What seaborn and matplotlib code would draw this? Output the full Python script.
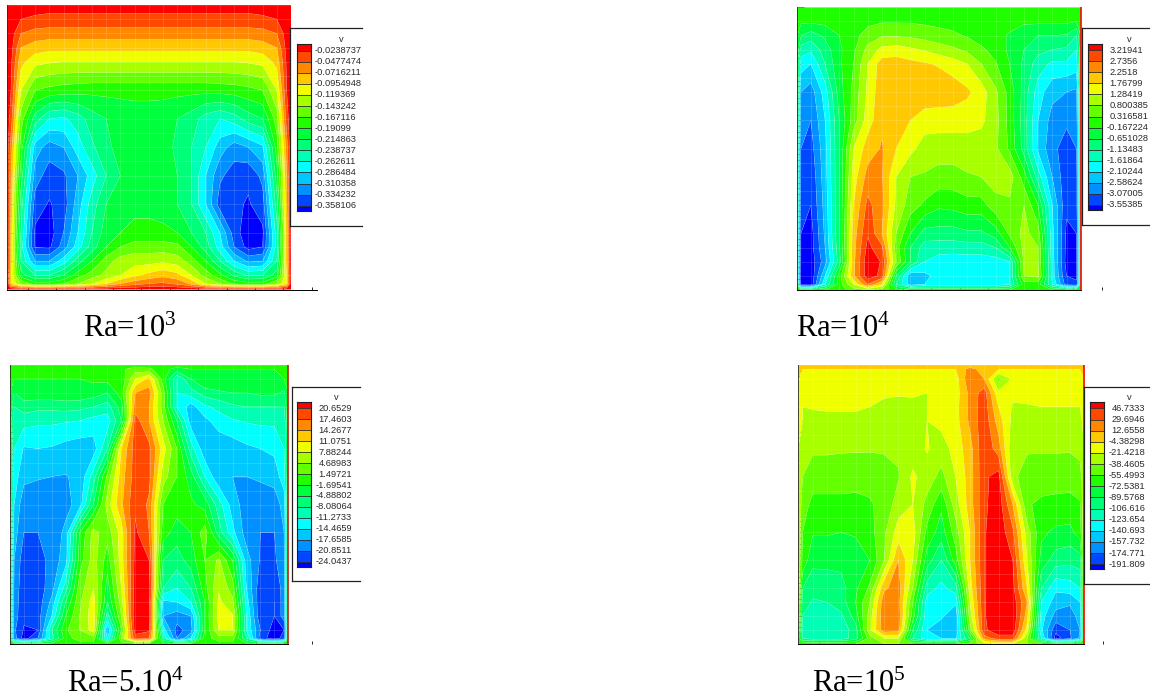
import numpy as np
import matplotlib
matplotlib.use("Agg")
import matplotlib.pyplot as plt
from matplotlib.colors import ListedColormap
from matplotlib.transforms import Bbox, TransformedBbox
import seaborn as sns

W, H = 1150, 700

x_frac = [0, .015, .05, .1, .15, .2, .25, .3, .35, .4, .45, .5, .55, .6, .65, .7, .75, .8, .85, .9, .95, .985, 1]
y_frac = [1, .985, .95, .9, .85, .8, .7, .6, .5, .4, .3, .2, .15, .1, .05, .02, 0]

level_colors = ["#0000ff", "#0048ff", "#0090ff", "#00c8ff", "#00ffff", "#00ffb4", "#00ff78", "#00ff3c",
                "#20ff00", "#64ff00", "#a8ff00", "#f0ff00", "#ffc800", "#ff8800", "#ff4800", "#ff0000"]

labels_a = ["-0.0238737", "-0.0477474", "-0.0716211", "-0.0954948", "-0.119369", "-0.143242", "-0.167116", "-0.19099",
            "-0.214863", "-0.238737", "-0.262611", "-0.286484", "-0.310358", "-0.334232", "-0.358106"]
labels_b = ["3.21941", "2.7356", "2.2518", "1.76799", "1.28419", "0.800385", "0.316581", "-0.167224",
            "-0.651028", "-1.13483", "-1.61864", "-2.10244", "-2.58624", "-3.07005", "-3.55385"]
labels_c = ["20.6529", "17.4603", "14.2677", "11.0751", "7.88244", "4.68983", "1.49721", "-1.69541",
            "-4.88802", "-8.08064", "-11.2733", "-14.4659", "-17.6585", "-20.8511", "-24.0437"]
labels_d = ["46.7333", "29.6946", "12.6558", "-4.38298", "-21.4218", "-38.4605", "-55.4993", "-72.5381",
            "-89.5768", "-106.616", "-123.654", "-140.693", "-157.732", "-174.771", "-191.809"]

levels_a = [
 [15.9,15.9,15.9,15.9,15.9,15.9,15.9,15.9,15.9,15.9,15.9,15.9,15.9,15.9,15.9,15.9,15.9,15.9,15.9,15.9,15.9,15.9,15.9],
 [15.9,15.9,15.6,15.3,15.2,15.2,15.2,15.2,15.2,15.2,15.2,15.2,15.2,15.2,15.2,15.2,15.2,15.2,15.2,15.3,15.6,15.9,15.9],
 [15.9,15.8,15.0,14.8,14.7,14.7,14.7,14.7,14.7,14.7,14.7,14.7,14.7,14.7,14.7,14.7,14.7,14.7,14.7,14.8,15.0,15.8,15.9],
 [15.9,15.5,14.0,13.6,13.5,13.5,13.5,13.5,13.5,13.5,13.5,13.5,13.5,13.5,13.5,13.5,13.5,13.5,13.5,13.6,14.0,15.5,15.9],
 [15.9,15.4,13.0,12.5,12.3,12.3,12.3,12.3,12.3,12.3,12.3,12.3,12.3,12.3,12.3,12.3,12.3,12.3,12.3,12.5,13.0,15.4,15.9],
 [15.9,15.2,12.3,11.3,11.1,11.0,11.0,11.0,11.0,11.0,11.0,11.0,11.0,11.0,11.0,11.0,11.0,11.0,11.1,11.3,12.3,15.2,15.9],
 [15.9,15.0,11.0,9.0,8.7,8.5,8.4,8.3,8.3,8.3,8.3,8.3,8.3,8.3,8.3,8.3,8.4,8.5,8.7,9.0,11.0,15.0,15.9],
 [15.8,14.5,9.5,6.5,5.0,4.8,5.5,6.5,7.0,7.3,7.5,7.5,7.4,7.0,6.5,5.5,5.0,5.5,6.5,7.0,9.5,14.5,15.8],
 [15.8,13.5,8.5,3.5,2.5,3.0,4.5,5.8,6.8,7.3,7.5,7.5,7.4,6.8,6.0,5.0,3.5,2.5,3.0,3.8,8.5,13.5,15.8],
 [15.7,13.0,7.5,2.5,1.5,1.8,3.0,4.5,6.0,7.0,7.5,7.8,7.5,7.0,6.0,4.0,2.2,1.5,1.2,2.3,7.5,13.0,15.7],
 [15.6,12.8,6.5,1.5,0.9,1.5,3.5,5.5,7.0,7.6,7.8,7.8,7.6,7.0,6.0,4.0,1.5,1.2,0.9,1.5,6.5,12.8,15.6],
 [15.6,12.5,6.0,0.8,0.5,2.0,4.0,6.0,7.5,8.0,8.2,8.2,8.2,8.0,7.0,6.0,4.0,1.5,0.3,0.8,5.5,12.5,15.6],
 [15.6,12.5,5.5,0.9,0.8,2.5,4.5,6.5,8.0,9.0,9.5,9.5,9.5,9.3,8.0,6.5,4.5,2.0,0.6,1.0,5.5,12.5,15.6],
 [15.7,12.5,6.0,3.0,3.0,4.5,6.5,8.0,9.5,10.5,10.6,10.6,10.8,10.5,9.5,8.0,6.0,4.0,2.8,3.0,6.0,12.5,15.7],
 [15.7,12.0,7.5,6.0,6.0,7.0,8.5,9.5,10.3,11.0,11.8,12.3,12.7,12.3,11.0,9.6,8.3,6.8,5.8,6.0,7.5,12.0,15.7],
 [15.8,12.0,10.0,8.5,8.5,9.0,10.0,11.0,12.0,13.0,13.6,14.0,14.2,13.8,12.8,11.0,10.0,8.8,8.5,8.5,10.0,12.0,15.8],
 [15.9,15.9,15.9,15.9,15.9,15.9,15.9,15.9,15.9,15.9,15.9,15.9,15.9,15.9,15.9,15.9,15.9,15.9,15.9,15.9,15.9,15.9,15.9],
]

levels_b = [
 [8.5,8.5,8.5,8.5,8.5,8.5,8.5,8.5,8.5,8.5,8.5,8.5,8.5,8.5,8.5,8.5,8.5,8.5,8.5,8.5,8.5,8.5,8.5],
 [8.5,8.4,8.4,8.4,8.5,8.5,8.5,8.6,8.6,8.6,8.6,8.6,8.5,8.5,8.5,8.5,8.5,8.4,8.4,8.4,8.4,8.4,8.5],
 [8.5,8.2,8.2,8.3,8.4,8.5,8.7,8.9,8.9,8.9,8.8,8.7,8.6,8.5,8.4,8.4,8.3,8.2,8.2,8.2,8.2,8.0,8.5],
 [8.2,7.0,6.5,7.2,8.0,8.6,9.5,9.9,9.9,9.8,9.6,9.4,9.2,8.9,8.5,8.3,7.9,7.3,7.0,7.0,6.9,6.0,8.0],
 [8.0,5.5,5.2,6.5,7.8,8.8,10.3,11.3,11.5,11.2,10.9,10.5,10.2,9.8,9.2,8.6,7.8,7.0,6.3,6.0,5.8,5.0,8.0],
 [8.0,4.5,4.0,6.0,7.8,9.0,11.0,12.5,12.5,12.3,12.1,11.9,11.5,11.0,10.0,9.1,8.0,6.8,5.5,4.8,4.8,4.5,8.0],
 [8.0,3.0,2.5,4.5,7.5,9.3,11.2,12.7,12.7,12.7,12.7,12.7,12.6,12.2,11.5,10.2,8.6,6.6,4.5,3.3,3.0,2.8,7.5],
 [7.5,2.5,2.0,4.0,7.0,9.5,11.5,12.8,12.7,12.0,11.5,11.4,11.4,11.4,11.2,10.4,8.6,6.5,4.0,2.6,2.2,2.5,7.0],
 [7.0,2.0,1.6,3.7,7.0,11.0,12.5,13.1,12.0,11.3,10.5,10.5,10.5,10.5,10.5,10.2,8.8,6.6,3.8,2.3,1.5,2.0,7.0],
 [7.0,1.8,1.2,3.6,7.0,11.5,13.4,13.1,11.0,10.0,9.9,9.6,9.6,9.9,10.0,10.5,10.5,8.5,5.5,3.0,1.3,1.5,7.0],
 [7.0,1.6,1.0,3.4,7.0,12.0,14.3,13.3,10.8,9.5,8.8,8.2,8.3,8.6,8.6,9.6,9.8,10.0,8.0,4.0,1.2,1.5,7.0],
 [7.0,1.0,0.6,3.2,7.0,12.5,14.9,13.0,10.0,8.0,6.6,6.6,6.6,6.8,6.8,7.5,9.2,10.3,9.5,4.3,0.8,1.0,7.0],
 [7.0,1.0,0.6,3.0,6.8,12.6,15.3,14.2,9.5,7.0,5.5,5.4,5.4,5.5,5.5,6.0,8.0,10.3,10.0,4.3,0.7,0.9,7.0],
 [7.0,0.8,0.4,2.6,6.5,12.7,15.7,14.9,10.0,7.0,5.0,4.6,4.5,4.5,4.5,4.5,5.0,10.2,10.0,4.5,0.6,0.8,7.0],
 [7.0,0.3,0.2,4.0,8.5,12.8,15.6,14.7,7.0,3.2,3.7,4.4,4.4,4.4,4.4,4.4,5.0,10.0,10.3,4.5,1.0,0.8,7.0],
 [8.0,0.5,0.3,5.0,8.5,11.0,14.0,12.0,6.0,3.5,4.0,4.2,4.2,4.2,4.2,4.2,5.0,8.5,8.5,5.0,1.5,1.2,7.5],
 [8.5,8.0,8.0,8.0,8.5,9.5,10.0,9.5,8.5,8.0,8.0,8.0,8.0,8.0,8.0,8.0,8.0,8.5,8.5,8.0,8.0,8.0,8.0],
]

levels_c = [
 [8.5,8.5,8.5,8.5,8.5,8.5,8.5,8.5,8.5,8.5,8.5,8.5,8.5,8.5,8.5,8.5,8.5,8.5,8.5,8.5,8.5,8.5,8.5],
 [8.5,8.2,8.2,8.3,8.3,8.3,8.3,8.4,8.5,8.8,9.5,9.2,8.4,7.6,8.0,8.0,8.0,8.0,8.0,8.0,8.0,8.2,8.5],
 [8.5,8.0,8.0,8.0,8.0,8.0,8.0,8.2,8.3,8.3,11.0,12.3,8.5,5.0,7.0,8.0,8.0,8.0,8.0,8.0,8.0,8.0,8.5],
 [8.0,7.0,7.6,7.7,7.7,7.8,7.8,7.5,7.0,8.5,13.0,13.5,9.5,5.0,5.5,6.5,6.8,7.0,7.0,7.2,7.2,6.8,8.0],
 [8.0,6.0,6.5,6.3,6.3,6.4,6.3,6.0,5.5,7.5,13.5,13.0,9.5,5.0,3.5,4.8,5.3,5.8,6.0,6.0,6.0,6.0,8.0],
 [8.0,5.3,5.4,5.2,5.2,5.1,5.0,4.6,4.5,7.0,14.5,13.0,10.0,7.0,3.5,3.7,4.5,4.9,5.1,5.2,5.2,5.3,8.0],
 [7.5,5.0,3.9,4.0,3.9,3.6,3.4,3.5,6.0,12.0,14.5,14.3,11.5,9.0,5.5,3.3,3.2,3.4,3.8,4.0,4.2,5.0,7.5],
 [7.5,4.5,3.3,3.1,3.0,2.95,3.2,5.5,9.3,12.5,14.5,14.3,10.5,9.0,7.5,5.0,3.2,3.0,3.0,3.2,3.5,4.5,7.5],
 [7.5,4.0,2.3,2.3,2.4,2.6,3.5,7.0,10.5,12.8,14.8,13.8,9.0,8.5,8.2,7.6,5.5,3.5,2.5,2.2,2.3,3.5,7.5],
 [7.5,3.5,2.0,2.0,2.2,3.3,8.0,10.4,9.4,11.5,15.2,14.0,8.5,7.5,8.0,9.5,6.5,4.3,2.5,2.0,2.0,3.0,7.5],
 [7.5,3.0,1.4,1.6,2.3,3.6,8.5,10.5,8.5,11.5,15.3,15.0,7.0,6.5,7.5,9.0,10.2,8.0,3.5,1.9,1.8,2.8,7.5],
 [7.5,2.8,1.2,1.4,2.6,5.5,9.5,11.0,7.5,11.0,15.5,15.5,6.0,5.0,6.0,8.6,10.9,9.5,4.0,1.3,1.1,2.5,7.5],
 [7.5,2.6,1.2,1.4,3.3,7.0,9.8,11.5,7.0,10.5,15.6,15.4,3.7,4.0,5.0,8.0,11.2,10.3,4.5,1.2,1.0,2.5,7.5],
 [7.5,2.5,1.2,1.5,4.0,8.0,10.0,11.6,5.5,10.0,15.8,15.6,3.0,2.5,3.0,8.0,11.4,11.1,5.0,1.2,1.0,2.5,7.5],
 [7.5,2.2,0.9,1.0,6.0,8.8,10.0,11.5,3.0,9.0,15.5,15.2,4.5,1.6,2.5,8.0,11.0,11.0,5.0,2.0,0.5,1.0,7.5],
 [8.0,2.5,0.5,2.0,5.5,8.5,9.5,9.5,4.0,10.0,14.5,14.0,6.0,2.0,4.0,8.5,9.5,9.5,6.0,1.5,0.4,1.5,8.0],
 [8.5,8.5,8.5,8.5,8.5,8.5,8.5,8.5,8.5,8.5,8.5,8.5,8.5,8.5,8.5,8.5,8.5,8.5,8.5,8.5,8.5,8.5,8.5],
]

levels_d = [
 [12.3,12.3,12.3,12.3,12.3,12.3,12.3,12.3,12.3,12.3,12.3,12.3,12.3,12.3,12.3,12.3,12.3,12.3,12.3,12.3,12.3,12.3,12.3],
 [12.2,12.0,12.0,12.0,12.0,12.0,12.0,12.0,12.0,12.0,12.0,12.0,12.0,13.4,12.5,12.0,12.0,12.0,12.0,12.0,12.0,12.0,12.2],
 [12.0,11.3,11.3,11.3,11.3,11.3,11.3,11.3,11.4,11.5,11.5,11.5,11.5,13.8,13.0,9.7,11.2,11.2,11.2,11.2,11.2,11.2,12.0],
 [12.0,11.1,11.1,11.1,11.1,11.1,11.1,11.1,11.1,11.2,11.0,11.4,11.5,13.3,14.5,11.2,11.2,11.2,11.1,11.1,11.1,11.1,12.0],
 [12.0,11.0,11.05,11.1,11.1,11.1,11.0,10.85,10.7,10.6,11.0,11.4,11.6,13.3,14.6,12.0,10.9,10.95,11.0,11.0,11.0,11.0,12.0],
 [12.0,11.0,10.8,10.8,10.8,10.8,10.7,10.6,10.6,10.6,11.0,11.3,11.6,13.2,14.7,12.5,10.7,10.6,10.6,10.6,10.6,10.6,11.5],
 [11.0,10.5,10.15,10.15,10.1,10.1,10.1,10.1,10.2,10.4,11.1,10.5,11.4,12.6,14.8,13.5,10.1,10.1,10.1,10.1,10.1,10.3,11.0],
 [11.0,10.0,9.5,9.5,9.5,9.4,9.3,9.6,9.9,11.2,10.5,9.7,11.0,12.5,14.8,15.4,10.2,9.6,9.5,9.5,9.4,9.6,11.0],
 [11.0,9.5,8.7,8.7,8.7,8.7,8.9,9.3,10.5,11.0,9.7,8.2,10.5,12.5,14.8,15.6,13.0,9.1,8.8,8.7,8.7,8.9,11.0],
 [11.0,9.0,8.1,8.1,8.0,8.1,8.6,9.8,11.5,11.5,8.7,7.5,9.5,12.0,14.9,15.7,14.2,10.5,8.2,7.8,7.7,8.5,11.0],
 [11.0,8.7,7.3,7.3,7.3,7.5,8.0,10.0,13.0,11.0,7.5,6.0,8.5,12.0,14.9,15.7,15.0,11.0,7.6,6.5,6.3,6.5,11.0],
 [11.0,7.0,6.3,6.4,6.6,7.8,9.2,12.8,13.5,10.0,5.5,4.7,5.5,11.5,14.9,15.7,15.3,12.0,6.0,4.2,4.5,5.0,11.0],
 [11.0,6.5,5.9,6.0,6.5,8.0,10.0,13.7,13.4,9.0,4.5,4.4,4.2,11.0,14.9,15.8,15.6,13.0,5.0,3.5,3.2,4.0,10.0],
 [10.5,6.0,5.6,5.7,5.8,7.5,10.5,13.8,13.6,8.5,4.3,4.2,3.2,10.5,14.9,15.8,15.8,12.5,4.5,2.6,2.4,3.5,10.0],
 [10.0,5.5,5.2,5.2,5.4,6.5,10.8,13.6,13.4,7.0,4.0,3.3,3.0,9.5,14.8,15.7,15.7,11.5,4.2,1.3,2.0,3.0,9.0],
 [9.0,6.0,5.5,5.5,5.5,6.5,9.5,11.0,11.0,6.0,4.3,4.0,3.8,7.0,13.5,14.5,14.5,10.0,5.0,0.5,1.8,3.2,8.0],
 [9.0,9.0,9.0,9.0,9.0,9.0,9.5,10.0,10.0,9.0,9.0,9.0,9.0,9.5,10.5,11.0,11.0,10.0,9.0,9.0,9.0,9.0,9.0],
]

captions = ["Ra=10$^{3}$", "Ra=10$^{4}$", "Ra=5.10$^{4}$", "Ra=10$^{5}$"]

sns.set_theme(style="white", rc={"axes.grid": False})
plt.rcParams["font.family"] = ["Liberation Sans", "DejaVu Sans"]
plt.rcParams["mathtext.default"] = "regular"
plt.rcParams["mathtext.fontset"] = "custom"
plt.rcParams["mathtext.rm"] = "Liberation Serif"

cmap = ListedColormap(sns.color_palette(level_colors, 16))
fig = plt.figure(figsize=(W / 100, H / 100), dpi=100, facecolor="white")


def px_axes(x0, y0, x1, y1, **kw):
    return fig.add_axes([x0 / W, 1 - y1 / H, (x1 - x0) / W, (y1 - y0) / H], **kw)


panels = [
    dict(z=levels_a, lab=labels_a, box=(6.7, 5, 291, 289.5), leg=(290, 28, 362, 226), bar=(296.7, 44, 310.7, 210.7),
         v=(341, 40), cap=(83, 337), cap_txt=captions[0], end=317, line=True, right=None),
    dict(z=levels_b, lab=labels_b, box=(796.7, 7.3, 1080.7, 290), leg=(1082, 28, 1150, 225), bar=(1087.5, 43.5, 1102, 210),
         v=(1129, 39), cap=(796, 337), cap_txt=captions[1], end=1102, line=False, right="#ff0000"),
    dict(z=levels_c, lab=labels_c, box=(10, 365, 291, 644), leg=(292, 387, 360, 581), bar=(296.7, 401.7, 311, 566.7),
         v=(336, 397), cap=(67, 692), cap_txt=captions[2], end=312, line=False, right="#c02010"),
    dict(z=levels_d, lab=labels_d, box=(798.3, 365, 1084.3, 644), leg=(1084, 387, 1150, 584), bar=(1089.5, 401.7, 1104, 569.3),
         v=(1129, 397), cap=(812, 692), cap_txt=captions[3], end=1106, line=False, right="#ff0000"),
]

# cell heights of the legend strip: short end cells, equal cells between the labels
cell_rows = np.array([20] + [33] * 14 + [15])

for p in panels:
    x0, y0, x1, y1 = p["box"]
    end = p["end"]
    ax = px_axes(x0, y0, end, y1)
    ax.patch.set_alpha(0)
    Z = np.array(p["z"], dtype=float)
    ax.contourf(x_frac, y_frac, Z, levels=np.arange(0, 17), cmap=cmap, vmin=0, vmax=16, antialiased=True)
    ax.contour(x_frac, y_frac, Z, levels=np.arange(1, 16), colors="white", linewidths=0.4, alpha=0.2)
    ax.set_xlim(0, (end - x0) / (x1 - x0))
    ax.set_ylim(0, 1)
    g = np.arange(0, 1.0001, 0.05)
    ax.vlines(g, 0, 1, colors="white", linewidth=0.5, alpha=0.2, zorder=3)
    ax.hlines(g, 0, 1, colors="white", linewidth=0.5, alpha=0.2, zorder=3)

    xt = (np.arange(0, 11) * 28.4 + 21) / (x1 - x0)
    ax.set_xticks(xt)
    ax.set_xticklabels([])
    ax.set_yticks(np.arange(0, 1.001, 0.1))
    ax.set_yticklabels([])
    ax.set_yticks(np.arange(0, 1.001, 0.02), minor=True)
    ax.tick_params(axis="x", which="major", direction="in", length=2.5, width=0.6, color="black", bottom=True, top=False)
    ax.tick_params(axis="y", which="major", direction="in", length=5, width=0.7, color="black", left=True, right=False)
    ax.tick_params(axis="y", which="minor", direction="in", length=2.5, width=0.6, color="black", left=True, right=False)
    sns.despine(ax=ax, top=True, right=True)
    ax.spines["left"].set_linewidth(0.6)
    ax.spines["left"].set_color("black")
    ax.spines["bottom"].set_linewidth(0.7)
    ax.spines["bottom"].set_color("black")
    ax.spines["bottom"].set_bounds(0, ax.get_xlim()[1] if p["line"] else 1)
    if p["right"]:
        ax.vlines(1, 0, 1, colors=p["right"], linewidth=1.2, zorder=4, clip_on=False)

    # legend box: three sides drawn, open to the right
    lx0, ly0, lx1, ly1 = p["leg"]
    lax = px_axes(lx0, ly0, lx1, ly1)
    lax.set_xlim(0, 1)
    lax.set_ylim(0, 1)
    lax.set_xticks([])
    lax.set_yticks([])
    lax.patch.set_facecolor("white")
    for side in ("top", "bottom", "left"):
        lax.spines[side].set_visible(True)
        lax.spines[side].set_linewidth(0.9)
        lax.spines[side].set_color("#222222")
    lax.spines["right"].set_visible(False)

    # legend strip
    bx0, by0, bx1, by1 = p["bar"]
    bax = px_axes(bx0, by0, bx1, by1)
    strip = np.repeat(np.arange(15, -1, -1), cell_rows)[:, None] + 0.5
    sns.heatmap(strip, ax=bax, cmap=cmap, vmin=0, vmax=16, cbar=False, xticklabels=False, yticklabels=False, rasterized=True)
    edges = np.cumsum(cell_rows)[:-1]
    bax.hlines(edges, 0, 1, colors="#303030", linewidth=0.6)
    for sp in bax.spines.values():
        sp.set_visible(True)
        sp.set_linewidth(0.8)
        sp.set_color("#202020")
    clip = TransformedBbox(Bbox([[0, 0], [1, 1]]), lax.transAxes)
    # digits line up; a minus sign hangs to the left of that column
    digit_x = bx1 + 7.5
    scale = (by1 - by0) / cell_rows.sum()
    for edge, lab in zip(edges, p["lab"]):
        lx = digit_x - (3.2 if lab.startswith("-") else 0)
        t = fig.text(lx / W, 1 - (by0 + edge * scale) / H, lab, fontsize=6.7, color="#2a2a2a", ha="left", va="center")
        t.set_clip_on(True)
        t.set_clip_box(clip)
    fig.text(p["v"][0] / W, 1 - p["v"][1] / H, "v", fontsize=6.7, color="#2a2a2a", ha="center", va="center")
    fig.text(p["cap"][0] / W, 1 - p["cap"][1] / H, p["cap_txt"], fontsize=22, family="Liberation Serif",
             color="black", ha="left", va="baseline")

fig.savefig("out.png", dpi=100)
